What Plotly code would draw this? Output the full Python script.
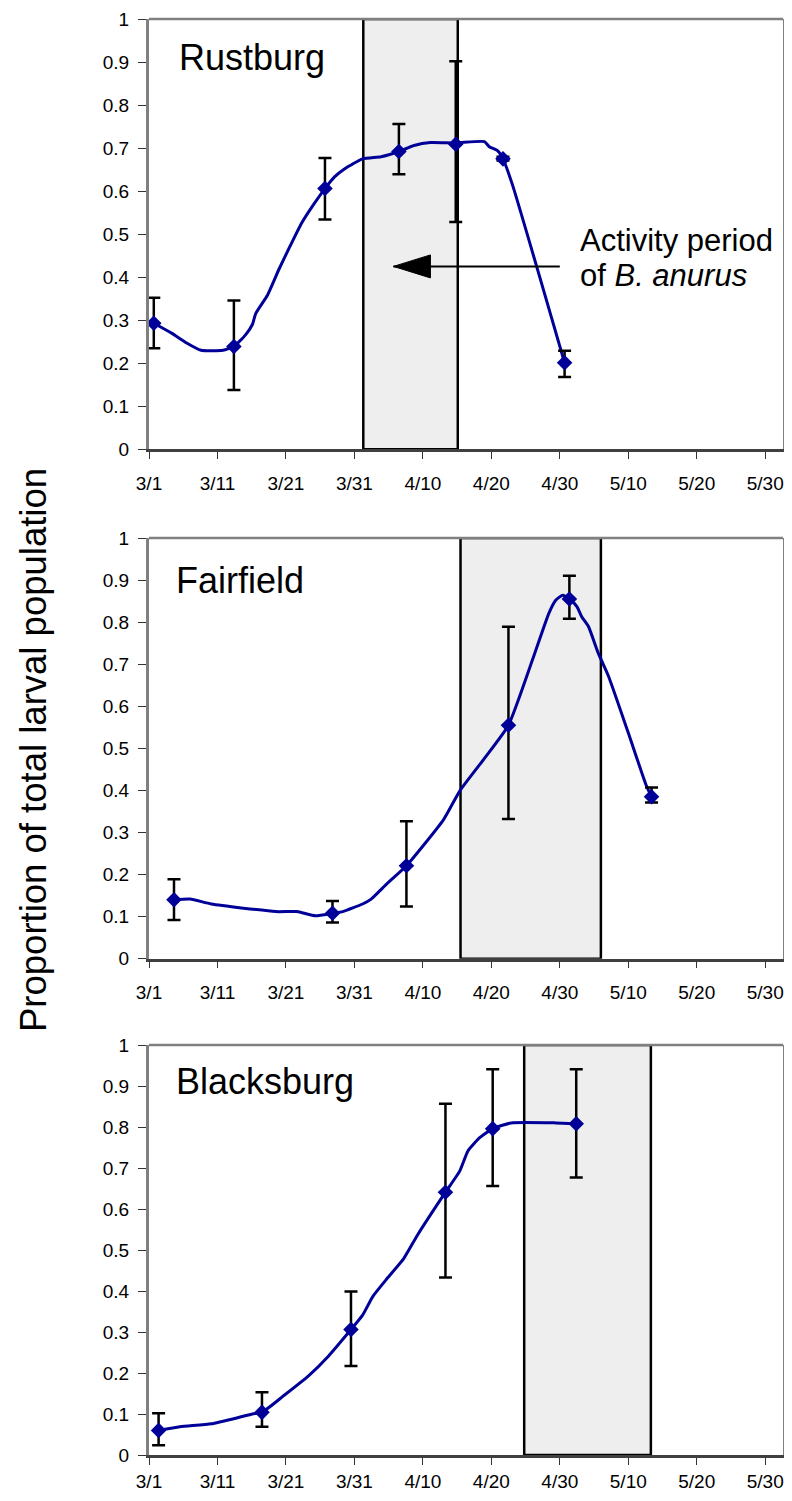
import plotly.graph_objects as go

# the page adds an 8px body margin on every side; size the figure so the page is exactly 792x1501
OFF = 8
W, H = 792 - 2 * OFF, 1501 - 2 * OFF
FONT = "Arial, 'Liberation Sans', sans-serif"
LINE_COLOR = "#000099"

# x axis: days since March 1
tick_days = [0, 10, 20, 30, 40, 50, 60, 70, 80, 90]
tick_labels = ["3/1", "3/11", "3/21", "3/31", "4/10", "4/20", "4/30", "5/10", "5/20", "5/30"]
x_max = 92.6

sites = ["Rustburg", "Fairfield", "Blacksburg"]

# ---- Rustburg ----
rus_day = [0.7, 12.4, 25.7, 36.5, 44.8, 51.7, 60.7]
rus_mean = [0.293, 0.239, 0.606, 0.692, 0.709, 0.675, 0.201]
rus_hi = [0.352, 0.346, 0.677, 0.756, 0.902, 0.680, 0.229]
rus_lo = [0.235, 0.138, 0.534, 0.639, 0.528, 0.671, 0.168]
rus_curve_day = [0.7, 3.3, 5.5, 7.6, 10.8, 12.4, 14.1, 15.1, 15.6, 17.3, 19.0, 20.6, 22.3, 24.0,
                 25.7, 27.1, 28.6, 31.2, 33.9, 36.5, 38.7, 41.1, 44.8, 49.0, 49.7, 50.9, 51.7, 53.1, 60.7]
rus_curve_val = [0.293, 0.270, 0.247, 0.230, 0.230, 0.239, 0.266, 0.290, 0.316, 0.358, 0.419, 0.472,
                 0.526, 0.568, 0.606, 0.633, 0.652, 0.675, 0.680, 0.692, 0.706, 0.713, 0.712, 0.715,
                 0.703, 0.694, 0.675, 0.614, 0.201]
rus_active = [31.3, 45.1]

# ---- Fairfield ----
ff_day = [3.65, 26.8, 37.6, 52.5, 61.4, 73.4]
ff_mean = [0.140, 0.108, 0.221, 0.555, 0.855, 0.385]
ff_hi = [0.189, 0.137, 0.327, 0.789, 0.910, 0.407]
ff_lo = [0.092, 0.086, 0.124, 0.332, 0.808, 0.371]
ff_curve_day = [3.65, 6.0, 9.1, 18.5, 21.6, 24.3, 26.8, 28.3, 31.2, 32.4, 34.8, 37.6, 43.0, 45.4,
                48.8, 52.5, 56.0, 58.4, 59.4, 60.4, 61.4, 62.5, 63.2, 64.2, 65.6, 67.1, 70.0, 72.6, 73.4]
ff_curve_val = [0.140, 0.142, 0.130, 0.112, 0.112, 0.102, 0.108, 0.112, 0.130, 0.141, 0.179, 0.221,
                0.330, 0.399, 0.472, 0.555, 0.710, 0.821, 0.852, 0.864, 0.855, 0.837, 0.813, 0.789,
                0.727, 0.672, 0.537, 0.413, 0.385]
ff_active = [45.5, 66.0]

# ---- Blacksburg ----
bb_day = [1.4, 16.5, 29.5, 43.3, 50.2, 62.4]
bb_mean = [0.060, 0.104, 0.306, 0.641, 0.796, 0.808]
bb_hi = [0.102, 0.153, 0.399, 0.857, 0.941, 0.941]
bb_lo = [0.024, 0.069, 0.217, 0.433, 0.656, 0.677]
bb_curve_day = [1.4, 4.5, 9.1, 13.2, 15.1, 16.5, 19.7, 23.3, 26.2, 29.5, 31.2, 32.7, 34.8, 37.2,
                39.2, 43.3, 45.4, 46.6, 48.3, 50.2, 52.9, 59.4, 62.4]
bb_curve_val = [0.060, 0.069, 0.076, 0.092, 0.100, 0.104, 0.145, 0.193, 0.241, 0.306, 0.341, 0.387,
                0.431, 0.479, 0.536, 0.641, 0.693, 0.742, 0.774, 0.796, 0.810, 0.810, 0.808]
bb_active = [54.8, 73.3]

# arrow in Rustburg panel: [tail day, tip day, value]
arrow_spec = [60.0, 35.7, 0.425]


def px(x):
    return (x - OFF) / W


def py(y):
    return 1 - (y - OFF) / H


# layout geometry (window pixels)
plot_left, plot_right = 149, 783
panel_px = [(19, 449.3), (538, 958.7), (1045, 1455)]
x_standoff = [8, 8, 0]

panels = [
    (rus_day, rus_mean, rus_hi, rus_lo, rus_curve_day, rus_curve_val, rus_active),
    (ff_day, ff_mean, ff_hi, ff_lo, ff_curve_day, ff_curve_val, ff_active),
    (bb_day, bb_mean, bb_hi, bb_lo, bb_curve_day, bb_curve_val, bb_active),
]

fig = go.Figure()
shapes = []
layout_axes = {}

for i, (d, m, hi, lo, cd, cv, act) in enumerate(panels):
    n = "" if i == 0 else str(i + 1)
    xa, ya = "x" + n, "y" + n
    fig.add_trace(go.Scatter(x=cd, y=cv, mode="lines", xaxis=xa, yaxis=ya,
                             line=dict(color=LINE_COLOR, width=3, shape="spline", smoothing=0.5),
                             hoverinfo="skip"))
    fig.add_trace(go.Scatter(
        x=d, y=m, mode="markers", xaxis=xa, yaxis=ya,
        marker=dict(symbol="diamond", size=12, color=LINE_COLOR),
        error_y=dict(type="data", symmetric=False,
                     array=[h - v for h, v in zip(hi, m)],
                     arrayminus=[v - l for v, l in zip(m, lo)],
                     color="black", thickness=2.5, width=6.5)))
    shapes.append(dict(type="rect", xref=xa, yref=ya, x0=act[0], x1=act[1], y0=0, y1=1,
                       fillcolor="#EEEEEE", line=dict(color="black", width=2.5), layer="below"))
    shapes.append(dict(type="line", xref=xa + " domain", yref=ya + " domain", x0=0, x1=1, y0=1, y1=1,
                       line=dict(color="#808080", width=2.5)))

    top, bot = panel_px[i]
    layout_axes["xaxis" + n] = dict(
        domain=[px(plot_left), px(plot_right)], anchor=ya, range=[0, x_max],
        tickmode="array", tickvals=tick_days, ticktext=tick_labels,
        ticks="outside", ticklen=7, tickwidth=1, tickcolor="#333333",
        showline=True, linecolor="#404040", linewidth=2.5,
        showgrid=False, zeroline=False, automargin=False, ticklabeloverflow="allow",
        tickfont=dict(family=FONT, size=19, color="black"), ticklabelstandoff=x_standoff[i],
    )
    layout_axes["yaxis" + n] = dict(
        domain=[py(bot), py(top)], anchor=xa, range=[0, 1],
        tickmode="linear", tick0=0, dtick=0.1,
        ticks="outside", ticklen=8, tickwidth=1, tickcolor="#333333",
        showline=True, linecolor="#808080", linewidth=3, mirror=True,
        showgrid=False, zeroline=False, automargin=False, ticklabeloverflow="allow",
        tickfont=dict(family=FONT, size=19, color="black"), ticklabelstandoff=5,
    )

# arrow (line + triangular head) in Rustburg panel
tail_d, tip_d, arr_v = arrow_spec
shapes.append(dict(type="line", xref="x", yref="y", x0=tip_d, x1=tail_d, y0=arr_v, y1=arr_v,
                   line=dict(color="black", width=2)))
shapes.append(dict(type="path", xref="x", yref="y", xsizemode="pixel", ysizemode="pixel",
                   xanchor=tip_d, yanchor=arr_v,
                   path="M0,0 L37,11.5 L37,-11.5 Z",
                   fillcolor="black", line=dict(color="black", width=1)))

annotations = []
title_pos = [(177, 57), (174, 580), (174, 1081)]
for name, (tx, ty) in zip(sites, title_pos):
    annotations.append(dict(text=name, xref="paper", yref="paper", x=px(tx), y=py(ty),
                            xanchor="left", yanchor="middle", showarrow=False,
                            font=dict(family=FONT, size=36, color="black")))

annotations.append(dict(text="Activity period", xref="paper", yref="paper", x=px(578), y=py(240),
                        xanchor="left", yanchor="middle", showarrow=False,
                        font=dict(family=FONT, size=31, color="black")))
annotations.append(dict(text="of <i>B. anurus</i>", xref="paper", yref="paper", x=px(578), y=py(275),
                        xanchor="left", yanchor="middle", showarrow=False,
                        font=dict(family=FONT, size=31, color="black")))

annotations.append(dict(text="Proportion of total larval population", xref="paper", yref="paper",
                        x=px(33), y=py(750), xanchor="center", yanchor="middle", textangle=-90,
                        showarrow=False, font=dict(family=FONT, size=36.5, color="black")))

fig.update_layout(width=W, height=H, margin=dict(l=0, r=0, t=0, b=0, autoexpand=False),
                  plot_bgcolor="white", paper_bgcolor="white", showlegend=False,
                  shapes=shapes, annotations=annotations, **layout_axes)

fig.write_html("out.html")
